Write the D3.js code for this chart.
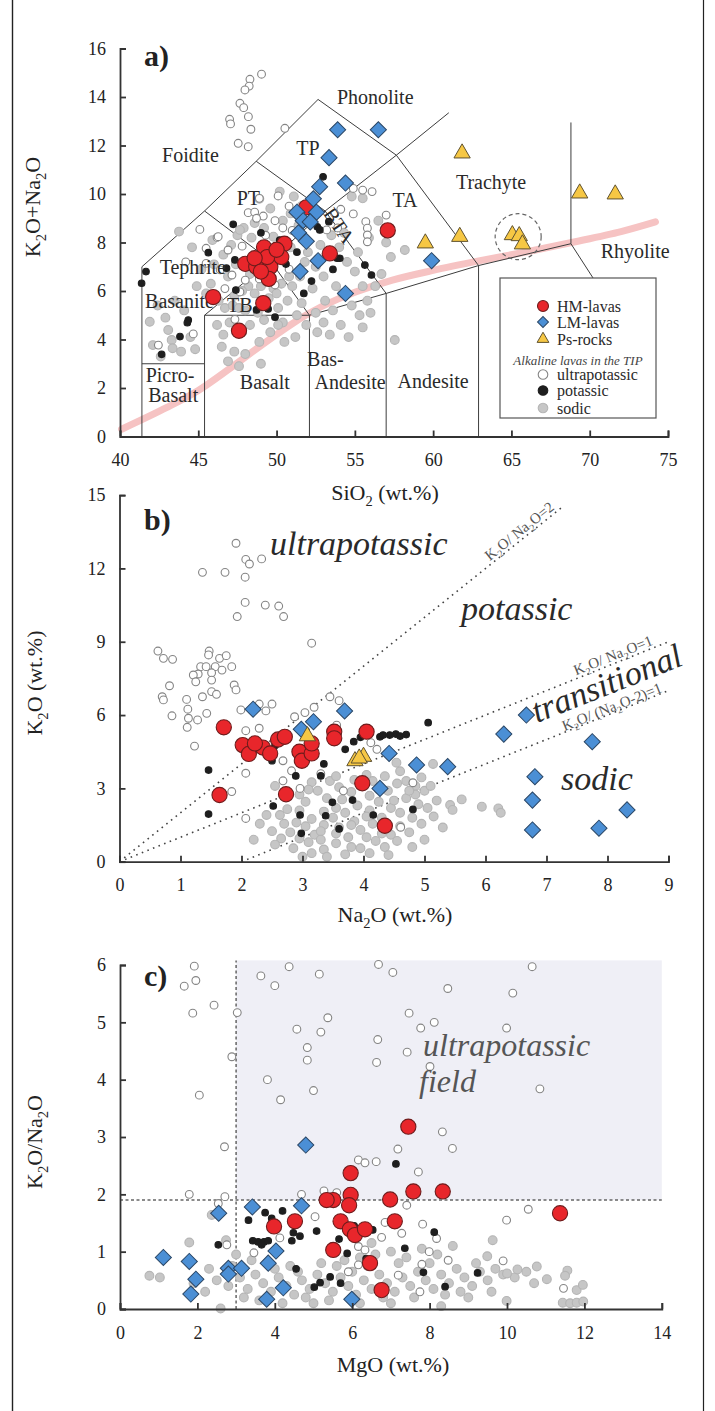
<!DOCTYPE html>
<html>
<head>
<meta charset="utf-8">
<script src="https://cdn.jsdelivr.net/npm/d3@7"></script>
<style>
  body { margin: 0; background: #fff; }
  svg { display: block; }
</style>
</head>
<body>
<svg id="fig" width="715" height="1411"></svg>
<script>
// ---------------- Panel a: TAS diagram (SiO2 vs Na2O+K2O) ----------------
const sio2Ticks = [40, 45, 50, 55, 60, 65, 70, 75];
const alkTicks = [0, 2, 4, 6, 8, 10, 12, 14, 16];

// HM-lavas [SiO2, Na2O+K2O]
const hmA = [[51.9,9.45],[57.1,8.5],[49.2,7.8],[50.5,7.95],[53.4,7.55],[48.0,7.12],[48.7,7.0],[49.6,7.0],
  [49.5,6.5],[50.3,7.4],[49.4,7.4],[48.6,7.35],[45.95,5.75],[49.15,5.5],[47.6,4.36],[49.0,6.8],[50.0,7.7]];
// LM-lavas
const lmA = [[53.9,12.65],[56.5,12.65],[53.35,11.5],[52.75,10.3],[54.4,10.45],[52.35,9.8],[51.3,9.25],[52.55,9.25],
  [51.7,8.9],[52.15,8.85],[51.4,8.4],[51.9,8.05],[52.65,7.25],[51.5,6.8],[54.4,5.9],[59.9,7.25]];
// Ps-rocks
const psA = [[61.85,11.68],[69.36,10.03],[71.63,9.99],[59.5,7.97],[61.7,8.24],[65.06,8.31],[65.5,8.27],[65.7,7.93]];
// Alkaline lavas of the TIP: ultrapotassic / potassic / sodic
const upA = [[49.04,14.94],[48.3,14.73],[48.25,14.45],[47.98,14.29],[47.66,13.74],[47.9,13.56],[48.2,13.19],[47.0,13.08],
  [47.06,12.89],[48.36,12.67],[50.53,12.71],[47.55,12.09],[48.19,11.95],[48.9,9.82],[50.1,9.92],[50.8,9.5],[48.19,9.23],
  [48.6,9.25],[49.15,9.09],[48.72,9.0],[49.9,8.9],[45.1,8.54],[46.2,8.21],[50.4,8.6],[51.0,8.5],[53.2,8.52],[53.9,8.6],
  [54.9,10.23],[55.5,10.16],[56.1,10.1],[54.1,9.37],[53.7,9.2],[54.9,9.18],[55.7,8.86],[55.8,8.59],[55.8,8.31],[55.8,8.03],
  [57.0,9.13],[45.5,7.76],[46.27,8.24],[45.5,7.14],[46.4,6.87],[47.15,6.66],[48.0,6.45],[48.9,6.5],[49.9,6.25],[47.66,5.96],
  [46.9,7.69],[42.45,3.77],[44.68,4.23],[47.34,4.83],[47.8,7.85],[46.7,6.1],[50.8,6.9],[49.3,8.3],[44.2,7.2]];
const kA = [[52.97,10.71],[52.06,9.62],[53.34,8.86],[52.6,8.65],[47.23,8.75],[54.04,7.35],[55.64,7.07],[47.34,7.28],
  [45.64,7.58],[41.66,6.8],[41.38,6.32],[46.8,6.94],[47.4,6.04],[48.72,5.22],[49.46,5.26],[49.9,4.92],[50.6,7.11],
  [52.23,6.41],[51.74,5.9],[53.6,6.89],[53.87,7.35],[56.06,6.66],[44.36,4.8],[44.3,4.69],[43.83,4.12],[42.66,3.39],
  [52.76,8.52],[50.2,8.1],[49.0,8.4],[51.3,7.6]];
const naA = [[41.9,4.73],[43.08,4.39],[43.3,3.98],[43.36,3.64],[42.1,3.77],[42.6,3.3],[43.9,3.5],[44.5,4.1],[42.9,4.9],
  [44.1,5.2],[43.5,5.6],[42.4,5.4],[44.8,3.6],[43.77,8.45],[44.6,7.8],[45.2,6.9],[45.8,6.3],[46.3,5.6],[46.0,7.1],[46.6,7.5],
  [47.1,7.9],[47.5,8.3],[47.9,8.6],[48.4,8.2],[46.9,6.6],[47.4,7.1],[45.5,5.9],[46.7,5.3],[47.3,5.8],[48.2,6.2],[48.6,7.1],
  [49.0,6.2],[45.9,8.1],[44.9,6.2],[47.66,8.52],[48.6,8.8],[49.2,8.6],[49.8,8.24],[50.4,8.9],[50.9,9.2],[51.4,8.7],
  [49.6,9.4],[48.9,9.8],[50.2,10.1],[51.1,9.9],[51.6,9.5],[51.9,8.9],[49.2,7.9],[50.9,7.8],[46.2,4.6],[46.6,4.2],[47.0,4.7],
  [47.2,5.4],[47.6,5.3],[48.0,5.2],[48.3,4.6],[48.6,5.9],[48.8,5.1],[49.2,4.8],[49.5,5.7],[49.8,6.1],[50.1,5.3],[50.4,4.7],
  [50.7,5.6],[51.0,6.2],[51.3,5.0],[51.6,5.5],[51.9,4.6],[46.5,3.7],[47.3,3.5],[48.0,3.4],[48.9,3.9],[49.6,4.3],[50.5,3.9],
  [51.2,4.1],[50.8,6.6],[50.3,6.3],[49.3,6.4],[48.3,6.7],[47.8,4.3],[46.9,3.1],[47.6,2.9],[49.0,3.0],[50.1,4.6],[51.5,6.6],
  [50.0,5.9],[49.0,5.6],[47.8,6.0],[52.0,7.6],[52.5,7.0],[53.0,6.6],[52.8,7.9],[53.5,8.3],[54.0,7.8],[54.5,7.2],[55.0,6.8],
  [53.8,6.2],[52.3,6.1],[51.8,7.2],[54.3,8.4],[55.2,7.6],[53.1,5.6],[54.2,5.9],[52.5,5.1],[53.0,4.7],[53.6,5.2],[54.1,4.6],
  [54.8,5.4],[55.3,5.0],[55.8,5.6],[56.3,6.2],[53.4,4.2],[54.6,4.1],[55.5,4.5],[52.6,4.3],[56.0,5.1],[56.7,6.7],[55.5,6.2],
  [55.5,9.82],[54.8,9.9],[56.5,8.9],[57.3,7.4],[58.19,7.69],[57.55,3.98],[55.9,8.2],[57.0,8.0]];

// TAS field boundaries (polylines in SiO2 / total-alkali units)
const tasBoundaries = [
  [[41.4,0],[41.4,7],[45.4,9.3],[48.7,11.35],[52.65,13.9],[57.65,11.6],[61,13.35]],
  [[41.4,3],[45.4,3]],
  [[45.4,0],[45.4,5],[52.1,5],[52.1,0]],
  [[45.4,5],[49.6,7.25],[52.1,5]],
  [[45.4,9.3],[49.6,7.25],[53.1,9.3],[57,5.9],[57,0]],
  [[48.7,11.35],[53.1,9.3],[57.65,11.6]],
  [[52.1,5],[57,5.9],[62.9,7.05],[62.9,0]],
  [[57.65,11.6],[62.9,7.05],[68.8,7.95],[68.8,12.95]],
  [[68.8,7.95],[72.5,4.25]]
];
// Alkaline / subalkaline divide
const alkDivide = [[40.1,0.3],[43,1.2],[45,1.9],[47,2.8],[49,3.75],[51,4.65],[52,5.05],[53,5.4],[55,5.95],[57.4,6.45],
  [60,6.85],[63,7.25],[66,7.62],[69,8.02],[72,8.45],[74.2,8.85]];
const tasLabels = [
  {t:"Phonolite",x:56.3,y:13.98},{t:"Foidite",x:44.5,y:11.6},{t:"TP",x:52.0,y:11.9},{t:"Trachyte",x:63.7,y:10.5},
  {t:"PT",x:48.2,y:9.84},{t:"TA",x:58.2,y:9.75},{t:"Tephrite",x:44.65,y:7.0},{t:"Basanite",x:43.8,y:5.6},
  {t:"TB",x:47.65,y:5.42},{t:"Picro-",x:43.2,y:2.55},{t:"Basalt",x:43.4,y:1.7},{t:"Basalt",x:49.25,y:2.25},
  {t:"Bas-",x:51.95,y:3.2,a:"start"},{t:"Andesite",x:54.7,y:2.25},{t:"Andesite",x:60.0,y:2.3},{t:"Rhyolite",x:72.9,y:7.65}
];
const legendItems = [
  {t:"HM-lavas", k:"hm"},{t:"LM-lavas", k:"lm"},{t:"Ps-rocks", k:"ps"},
  {t:"Alkaline lavas in the TIP", k:"head"},
  {t:"ultrapotassic", k:"up"},{t:"potassic", k:"k"},{t:"sodic", k:"na"}
];

// ---------------- Panel b: Na2O vs K2O ----------------
const na2oTicks = [0,1,2,3,4,5,6,7,8,9];
const k2oTicks = [0,3,6,9,12,15];
const hmB = [[1.71,5.5],[2.02,4.77],[2.12,4.41],[2.35,4.67],[2.47,4.43],[2.22,4.84],[2.6,5.0],[2.71,5.11],[2.95,4.5],
  [2.99,4.13],[3.15,4.43],[3.15,4.84],[3.52,5.32],[3.52,5.05],[4.05,5.32],[3.98,3.21],[1.64,2.73],[2.73,2.76],[4.35,1.47]];
const lmB = [[2.19,6.24],[3.69,6.17],[3.18,5.73],[2.98,5.42],[6.67,6.0],[6.3,5.22],[7.75,4.91],[4.42,4.43],[4.87,3.96],
  [5.38,3.89],[6.81,3.48],[6.77,2.52],[6.77,1.3],[7.86,1.37],[8.32,2.12],[4.27,3.0]];
const psB = [[3.08,5.14],[3.86,4.12],[4.0,4.3],[3.93,4.23]];
const upB = [[1.91,13.03],[2.07,12.37],[2.13,12.18],[2.33,12.39],[1.36,11.84],[1.73,11.84],[2.06,11.64],[2.06,10.61],
  [2.39,10.5],[2.61,10.46],[1.93,10.03],[2.69,10.03],[3.15,8.94],[0.63,8.62],[0.72,8.32],[0.87,8.28],[1.47,8.62],[1.46,8.46],
  [1.64,8.32],[1.75,8.43],[1.33,7.98],[1.42,7.98],[1.57,7.98],[1.84,7.98],[1.68,7.84],[1.29,7.68],[1.21,7.64],[1.51,7.73],
  [1.51,7.43],[1.25,7.36],[1.88,7.23],[0.82,7.2],[1.91,7.03],[1.51,6.96],[1.59,6.85],[1.36,6.75],[0.7,6.75],[0.72,6.62],
  [1.1,6.64],[2.29,6.45],[2.5,6.45],[3.45,6.75],[3.6,6.59],[1.12,6.24],[1.99,6.21],[2.4,6.17],[0.86,5.97],[1.43,6.07],
  [1.28,5.8],[1.11,5.5],[2.07,5.36],[2.29,5.46],[2.87,5.93],[3.04,6.1],[3.19,6.32],[1.13,5.87],[1.23,4.73],[2.07,3.62],
  [1.84,2.87],[2.07,1.77],[2.68,4.13],[2.82,3.72],[2.68,3.31],[2.96,3.0],[3.67,2.9],[3.56,5.59],[4.12,4.87],[4.22,4.6],
  [4.81,3.23],[4.61,1.41],[2.9,4.45],[3.3,3.6]];
const kB = [[1.46,3.75],[1.46,1.95],[2.52,2.28],[2.96,1.91],[2.98,1.16],[2.89,3.51],[3.3,3.51],[3.35,4.0],[3.49,2.43],
  [3.38,1.88],[3.6,1.34],[3.82,2.52],[4.16,1.91],[3.84,4.91],[3.95,5.09],[4.27,5.11],[4.32,5.18],[4.43,5.18],[4.53,5.22],
  [2.5,4.13],[5.06,5.69],[4.6,5.14],[4.81,2.14],[4.7,5.2],[2.55,4.75],[3.7,4.6]];
const naB = [[2.41,1.91],[2.63,1.91],[2.75,2.15],[2.9,1.6],[3.05,1.45],[2.8,1.2],[2.65,0.95],[2.55,0.7],[2.85,0.55],
  [3.1,0.8],[3.2,1.1],[3.35,1.5],[3.5,1.8],[3.55,2.2],[3.7,2.0],[3.4,2.6],[3.25,2.9],[3.6,3.05],[3.8,2.85],[3.95,3.1],
  [4.1,2.7],[4.25,2.45],[4.4,2.9],[4.55,3.2],[4.7,3.3],[4.85,3.1],[5.0,2.9],[4.95,3.45],[4.7,2.6],[4.45,2.2],[4.3,1.8],
  [4.15,1.55],[3.95,1.3],[3.75,1.0],[3.55,0.75],[3.35,0.5],[3.15,0.35],[3.0,0.2],[3.4,0.2],[3.7,0.3],[3.95,0.55],[4.2,0.85],
  [4.45,1.1],[4.6,1.45],[4.8,1.8],[5.05,2.2],[5.2,2.5],[4.9,2.35],[4.6,2.0],[4.35,1.4],[4.05,1.0],[3.8,0.6],[4.1,0.35],
  [4.35,0.6],[4.55,0.85],[4.75,1.2],[4.95,1.55],[5.15,1.85],[3.05,2.45],[2.95,2.75],[3.15,3.25],[3.45,3.3],[3.85,3.35],
  [4.15,3.3],[4.35,3.5],[4.6,3.7],[5.14,4.0],[4.54,4.05],[4.85,2.75],[4.1,2.1],[3.85,1.65],[3.6,1.4],[3.3,1.25],[3.15,1.75],
  [2.95,2.1],[3.35,2.05],[3.9,2.3],[4.25,2.95],[4.05,3.55],[3.55,3.5],[3.3,0.9],[3.55,1.15],[3.8,1.5],[4.05,1.85],[4.5,2.5],
  [4.75,2.9],[5.1,3.1],[2.7,1.55],[2.5,1.25],[2.3,1.55],[5.94,2.25],[6.21,2.18],[6.25,2.0],[5.61,2.55],[5.42,2.32],
  [5.46,2.12],[4.41,0.27],[2.55,3.1],[5.3,1.4],[5.0,0.9],[4.8,0.6],[2.95,0.95],[3.65,2.55],[4.3,1.15],[2.2,0.9],[3.1,2.95]];
// K2O/Na2O reference lines: [Na2O start, K2O start, Na2O end, K2O end]
const ratioLines = [[0,0,7.25,14.5],[0,0,9,9],[2,0,9,7]];

// ---------------- Panel c: MgO vs K2O/Na2O ----------------
const mgoTicks = [0,2,4,6,8,10,12,14];
const ratioTicks = [0,1,2,3,4,5,6];
const upFieldMgO = 3, upFieldRatio = 1.9;
const hmC = [[7.45,3.18],[7.58,2.05],[8.34,2.05],[6.98,1.91],[7.1,1.53],[11.37,1.67],[6.76,0.33],[5.96,2.37],[5.96,1.99],
  [5.51,1.9],[5.34,1.9],[5.92,1.81],[4.52,1.53],[3.98,1.44],[5.7,1.53],[5.94,1.39],[6.07,1.29],[6.33,1.39],[5.51,1.03],[6.46,0.8]];
const lmC = [[4.8,2.86],[1.12,0.9],[1.79,0.83],[1.96,0.52],[1.83,0.26],[2.55,1.67],[2.8,0.71],[2.8,0.61],[3.14,0.71],
  [3.42,1.78],[4.69,1.8],[4.03,1.01],[3.83,0.8],[4.22,0.37],[3.79,0.17],[5.99,0.17]];
const upC = [[1.92,5.98],[1.96,5.73],[1.66,5.63],[2.43,5.3],[1.88,5.16],[3.03,5.17],[2.89,4.4],[2.05,3.73],[2.7,2.83],
  [3.64,5.81],[4.37,5.97],[5.15,5.84],[4.0,5.64],[6.68,6.01],[7.05,5.87],[5.37,5.08],[4.57,4.88],[5.19,4.83],[6.66,4.7],
  [4.84,4.56],[4.84,4.34],[6.63,4.3],[3.81,4.0],[5.0,3.81],[4.15,3.65],[6.16,2.6],[6.33,2.55],[6.62,2.57],[7.18,2.79],
  [10.65,5.97],[8.47,5.59],[10.15,5.51],[7.47,5.16],[7.77,4.9],[8.12,5.0],[9.99,4.9],[7.42,4.48],[8.01,4.23],[10.85,3.84],
  [8.33,3.09],[8.59,2.8],[7.71,2.39],[10.55,1.74],[9.99,1.55],[7.82,1.48],[7.28,1.32],[8.18,1.23],[7.99,1.0],[8.48,0.85],
  [9.9,0.84],[7.8,0.78],[7.19,0.59],[7.75,0.3],[11.46,0.36],[7.41,1.81],[1.79,2.0],[2.71,1.96],[2.54,1.84],[2.76,1.12],
  [3.46,0.98],[4.13,1.24],[4.69,2.0],[5.04,1.61],[5.27,2.06],[5.6,2.03],[5.9,0.65],[6.16,1.09],[6.33,1.03],[6.16,0.77],
  [6.85,1.51],[6.76,1.25]];
const kC = [[2.54,1.12],[3.32,1.55],[3.75,1.68],[3.92,1.58],[4.2,1.71],[3.43,1.19],[3.57,1.17],[3.72,1.17],[3.83,1.19],
  [3.66,1.12],[4.48,1.33],[4.65,1.27],[4.44,1.19],[5.08,1.36],[4.55,0.7],[5.43,0.56],[5.17,0.46],[5.02,0.38],[5.7,0.45],
  [5.66,1.22],[5.87,0.97],[6.05,1.45],[6.53,1.38],[6.36,0.88],[7.13,2.53],[8.12,1.34],[7.36,1.06],[7.84,0.64],[8.4,0.39],[9.24,0.63]];
const naC = [[0.76,0.58],[1.03,0.55],[1.79,1.16],[2.74,1.2],[2.37,1.64],[2.6,0.01],[1.9,0.45],[2.2,0.3],[2.5,0.5],[2.8,0.4],
  [3.1,0.55],[3.3,0.35],[3.5,0.6],[3.7,0.45],[3.9,0.3],[4.1,0.55],[4.3,0.4],[4.5,0.25],[4.7,0.5],[4.9,0.35],[5.1,0.6],
  [5.3,0.45],[5.5,0.3],[5.7,0.55],[5.9,0.4],[6.1,0.25],[6.3,0.5],[6.5,0.35],[6.7,0.6],[6.9,0.45],[7.1,0.3],[7.3,0.55],
  [7.5,0.4],[7.7,0.65],[7.9,0.5],[8.1,0.35],[8.3,0.6],[8.5,0.45],[8.7,0.7],[8.9,0.55],[9.1,0.4],[9.3,0.65],[9.5,0.5],
  [9.7,0.7],[9.9,0.6],[10.2,0.55],[10.5,0.65],[3.2,0.2],[3.6,0.15],[4.0,0.7],[4.4,0.75],[4.8,0.2],[5.2,0.8],[5.6,0.75],
  [6.0,0.65],[6.4,0.75],[6.8,0.2],[7.2,0.8],[7.6,0.2],[8.0,0.8],[8.4,0.25],[8.8,0.3],[9.2,0.8],[9.6,0.3],[4.6,0.65],
  [5.0,0.1],[5.4,0.15],[5.8,0.85],[6.2,0.9],[6.6,0.95],[7.0,1.0],[7.4,0.9],[7.8,1.05],[8.2,0.95],[8.6,1.1],[9.63,1.2],
  [9.49,0.92],[10.77,0.74],[11.03,0.52],[10.7,0.45],[11.56,0.67],[11.5,0.58],[11.8,0.33],[11.96,0.42],[11.44,0.11],
  [11.63,0.1],[11.8,0.11],[11.97,0.13],[9.99,0.14],[10.27,0.69],[10.0,0.62],[3.4,0.85],[2.9,0.75],[2.3,0.7],[4.2,0.1],
  [6.2,0.1],[7.0,0.1],[3.0,0.95],[5.5,1.0],[6.5,1.15],[8.3,0.05],[9.0,0.2]];

// ---------------- drawing ----------------
const FONT = "'Liberation Serif','Times New Roman',Times,serif";
const INK = "#333";
const sty = {
  hm: {fill:"#e8262b", stroke:"#6e1c1c", r:7.6},
  lm: {fill:"#4b8fd5", stroke:"#2b4766", size:130},
  ps: {fill:"#f6c744", stroke:"#5f5230", size:115},
  up: {fill:"#fff", stroke:"#858585", r:3.9},
  k:  {fill:"#1e1e1e", stroke:"#1e1e1e", r:3.3},
  na: {fill:"#c6c6c6", stroke:"#b5b5b5", r:4.4}
};
const svg = d3.select("#fig").attr("font-family", FONT);

// figure frame
svg.append("line").attr("x1",12.5).attr("x2",12.5).attr("y1",0).attr("y2",1411).attr("stroke","#222").attr("stroke-width",1.4);
svg.append("line").attr("x1",703.5).attr("x2",703.5).attr("y1",0).attr("y2",1411).attr("stroke","#222").attr("stroke-width",1.2);

function rich(sel, parts, fs) {
  let down = false;
  parts.forEach(p => {
    const t = sel.append("tspan").text(p[0]);
    if (p[1]) {
      t.attr("font-size", fs * 0.66);
      if (!down) { t.attr("dy", fs * 0.26); down = true; }
    } else if (down) { t.attr("dy", -fs * 0.26); down = false; }
  });
  return sel;
}

function drawAxes(x, y, xt, yt) {
  const x0 = x.range()[0], y0 = y.range()[0];
  const gx = svg.append("g").attr("transform", `translate(0,${y0})`)
    .call(d3.axisBottom(x).tickValues(xt).tickSize(-6).tickSizeOuter(-6).tickPadding(17).tickFormat(d3.format("d")));
  const gy = svg.append("g").attr("transform", `translate(${x0},0)`)
    .call(d3.axisLeft(y).tickValues(yt).tickSize(-6).tickSizeOuter(-6).tickPadding(14).tickFormat(d3.format("d")));
  [gx, gy].forEach(g => {
    g.attr("font-family", FONT).attr("font-size", 18).attr("color", INK);
    g.selectAll("path,line").attr("stroke-width", 1.8);
    g.selectAll("text").attr("fill", "#222");
  });
}

function circles(g, data, x, y, s) {
  g.append("g").selectAll("circle").data(data).join("circle")
    .attr("cx", d => x(d[0])).attr("cy", d => y(d[1])).attr("r", s.r)
    .attr("fill", s.fill).attr("stroke", s.stroke).attr("stroke-width", 1.1);
}
const diamondPath = d3.symbol(d3.symbolSquare, sty.lm.size)();
function diamonds(g, data, x, y) {
  g.append("g").selectAll("path").data(data).join("path").attr("d", diamondPath)
    .attr("transform", d => `translate(${x(d[0])},${y(d[1])}) rotate(45)`)
    .attr("fill", sty.lm.fill).attr("stroke", sty.lm.stroke).attr("stroke-width", 1);
}
const trianglePath = d3.symbol(d3.symbolTriangle, sty.ps.size)();
function triangles(g, data, x, y) {
  g.append("g").selectAll("path").data(data).join("path").attr("d", trianglePath)
    .attr("transform", d => `translate(${x(d[0])},${y(d[1])})`)
    .attr("fill", sty.ps.fill).attr("stroke", sty.ps.stroke).attr("stroke-width", 1);
}
function background(g, x, y, up, k, na) {
  circles(g, na, x, y, sty.na);
  circles(g, up, x, y, sty.up);
  circles(g, k, x, y, sty.k);
}
function panelTag(t, px, py) {
  svg.append("text").attr("x", px).attr("y", py).attr("font-size", 30).attr("font-weight", "bold")
    .attr("fill", "#222").text(t);
}
function yTitle(parts, cx, cy) {
  rich(svg.append("text").attr("transform", `translate(${cx},${cy}) rotate(-90)`)
    .attr("text-anchor", "middle").attr("font-size", 22).attr("fill", "#222"), parts, 22);
}
function xTitle(parts, cx, by) {
  rich(svg.append("text").attr("x", cx).attr("y", by).attr("text-anchor", "middle")
    .attr("font-size", 22).attr("fill", "#222"), parts, 22);
}

// ===== Panel a =====
const xa = d3.scaleLinear().domain([40, 75]).range([120, 668]);
const ya = d3.scaleLinear().domain([0, 16]).range([436.5, 48.5]);
const ga = svg.append("g");
ga.append("path").datum(alkDivide)
  .attr("d", d3.line().x(d => xa(d[0])).y(d => ya(d[1])).curve(d3.curveCatmullRom))
  .attr("fill", "none").attr("stroke", "#f6c3c3").attr("stroke-width", 7).attr("stroke-linecap", "round");
ga.append("g").selectAll("path").data(tasBoundaries).join("path")
  .attr("d", d3.line().x(d => xa(d[0])).y(d => ya(d[1])))
  .attr("fill", "none").attr("stroke", "#3d3d3d").attr("stroke-width", 1);
background(ga, xa, ya, upA, kA, naA);
ga.append("g").selectAll("text").data(tasLabels).join("text")
  .attr("x", d => xa(d.x)).attr("y", d => ya(d.y)).attr("dy", "0.35em")
  .attr("text-anchor", d => d.a || "middle").attr("font-size", 20).attr("fill", "#2a2a2a").text(d => d.t);
ga.append("text").attr("transform", `translate(${xa(54.0)},${ya(8.7)}) rotate(56)`)
  .attr("text-anchor", "middle").attr("dy", "0.35em").attr("font-size", 20).attr("fill", "#2a2a2a").text("BTA");
circles(ga, hmA, xa, ya, sty.hm);
diamonds(ga, lmA, xa, ya);
triangles(ga, psA, xa, ya);
ga.append("circle").attr("cx", xa(65.43)).attr("cy", ya(8.24)).attr("r", 23)
  .attr("fill", "none").attr("stroke", "#666").attr("stroke-width", 1.2).attr("stroke-dasharray", "4,3");

// legend
const lg = ga.append("g").attr("transform", "translate(500,278)");
lg.append("rect").attr("width", 156).attr("height", 140).attr("fill", "#fff").attr("stroke", "#555").attr("stroke-width", 1.2);
const rowsY = [28, 44, 61, 82, 96.5, 112.5, 130];
legendItems.forEach((it, i) => {
  const yy = rowsY[i];
  if (it.k === "head") {
    lg.append("text").attr("x", 78).attr("y", yy).attr("dy", "0.35em").attr("text-anchor", "middle")
      .attr("font-size", 13).attr("font-style", "italic").attr("fill", "#444").text(it.t);
    return;
  }
  const sx = 43;
  if (it.k === "lm") {
    lg.append("path").attr("d", d3.symbol(d3.symbolSquare, 60)()).attr("transform", `translate(${sx},${yy}) rotate(45)`)
      .attr("fill", sty.lm.fill).attr("stroke", sty.lm.stroke);
  } else if (it.k === "ps") {
    lg.append("path").attr("d", d3.symbol(d3.symbolTriangle, 60)()).attr("transform", `translate(${sx},${yy})`)
      .attr("fill", sty.ps.fill).attr("stroke", sty.ps.stroke);
  } else {
    const s = sty[it.k];
    const r = it.k === "hm" ? 5.5 : 4.8;
    lg.append("circle").attr("cx", sx).attr("cy", yy).attr("r", r).attr("fill", s.fill).attr("stroke", s.stroke).attr("stroke-width", 1.1);
  }
  lg.append("text").attr("x", 57).attr("y", yy).attr("dy", "0.35em").attr("font-size", 16).attr("fill", "#2a2a2a").text(it.t);
});
drawAxes(xa, ya, sio2Ticks, alkTicks);
panelTag("a)", 144, 66);
yTitle([["K"],["2",1],["O+Na"],["2",1],["O"]], 40, 207);
xTitle([["SiO"],["2",1],[" (wt.%)"]], 385, 500);

// ===== Panel b =====
const xb = d3.scaleLinear().domain([0, 9]).range([119.5, 668.5]);
const yb = d3.scaleLinear().domain([0, 15]).range([861.7, 495.1]);
const gb = svg.append("g");
gb.append("g").selectAll("line").data(ratioLines).join("line")
  .attr("x1", d => xb(d[0])).attr("y1", d => yb(d[1])).attr("x2", d => xb(d[2])).attr("y2", d => yb(d[3]))
  .attr("stroke", "#444").attr("stroke-width", 1.6).attr("stroke-dasharray", "1.6,4.4");
background(gb, xb, yb, upB, kB, naB);
const ang2 = -Math.atan2(yb(0) - yb(2), xb(1) - xb(0)) * 180 / Math.PI;
const ang1 = -Math.atan2(yb(0) - yb(1), xb(1) - xb(0)) * 180 / Math.PI;
function lineNote(parts, nx, ny, ang, lift) {
  rich(gb.append("text").attr("transform", `translate(${xb(nx)},${yb(ny)}) rotate(${ang}) translate(0,${-lift})`)
    .attr("font-size", 15).attr("fill", "#555"), parts, 15);
}
lineNote([["K"],["2",1],["O/ Na"],["2",1],["O=2"]], 6.1, 12.2, ang2, 3);
lineNote([["K"],["2",1],["O/ Na"],["2",1],["O=1"]], 7.5, 7.5, ang1, 3);
lineNote([["K"],["2",1],["O/ (Na"],["2",1],["O-2)=1"]], 7.3, 5.3, ang1, 1);
const regionText = (g, t, px, py, rot, fs, col) => g.append("text")
  .attr("transform", `translate(${px},${py}) rotate(${rot || 0})`)
  .attr("font-size", fs || 34).attr("font-style", "italic").attr("fill", col || "#2a2a2a").text(t);
regionText(gb, "ultrapotassic", 270, 555);
regionText(gb, "potassic", 461, 620);
regionText(gb, "transitional", 537, 723, -21.5);
regionText(gb, "sodic", 561, 790);
circles(gb, hmB, xb, yb, sty.hm);
diamonds(gb, lmB, xb, yb);
triangles(gb, psB, xb, yb);
drawAxes(xb, yb, na2oTicks, k2oTicks);
panelTag("b)", 144, 530);
yTitle([["K"],["2",1],["O (wt.%)"]], 42, 683);
xTitle([["Na"],["2",1],["O (wt.%)"]], 395, 922);

// ===== Panel c =====
const xc = d3.scaleLinear().domain([0, 14]).range([120, 661.8]);
const yc = d3.scaleLinear().domain([0, 6]).range([1309, 965]);
const gc = svg.append("g");
gc.append("rect").attr("x", xc(upFieldMgO)).attr("y", yc(6.08))
  .attr("width", xc(14) - xc(upFieldMgO)).attr("height", yc(upFieldRatio) - yc(6.08)).attr("fill", "#efeff6");
gc.append("line").attr("x1", xc(upFieldMgO)).attr("x2", xc(upFieldMgO)).attr("y1", yc(0)).attr("y2", yc(6.08))
  .attr("stroke", "#666").attr("stroke-width", 1.5).attr("stroke-dasharray", "3,2.5");
gc.append("line").attr("x1", xc(0)).attr("x2", xc(14)).attr("y1", yc(upFieldRatio)).attr("y2", yc(upFieldRatio))
  .attr("stroke", "#666").attr("stroke-width", 1.5).attr("stroke-dasharray", "3,2.5");
background(gc, xc, yc, upC, kC, naC);
regionText(gc, "ultrapotassic", 423, 1056, 0, 32, "#555");
regionText(gc, "field", 419, 1092, 0, 32, "#555");
circles(gc, hmC, xc, yc, sty.hm);
diamonds(gc, lmC, xc, yc);
drawAxes(xc, yc, mgoTicks, ratioTicks);
panelTag("c)", 144, 986);
yTitle([["K"],["2",1],["O/Na"],["2",1],["O"]], 42, 1142);
xTitle([["MgO (wt.%)"]], 393, 1372);
</script>
</body>
</html>
